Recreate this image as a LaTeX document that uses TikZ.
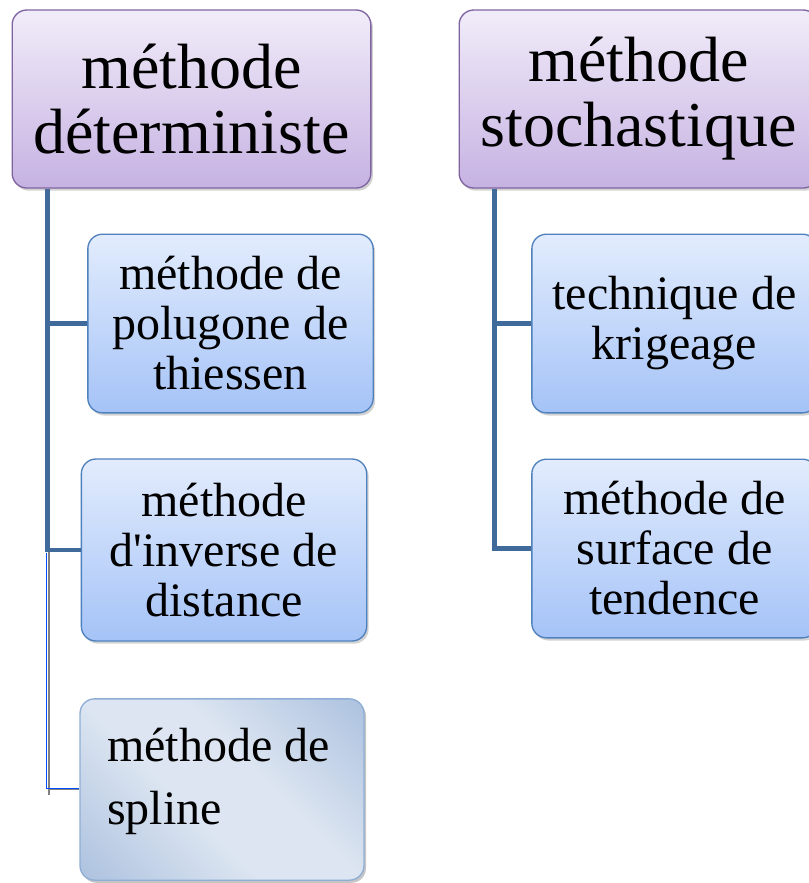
\documentclass[tikz,border=0pt]{standalone}
\usepackage{fontspec}
\setmainfont{Liberation Serif}[Ligatures=TeXOff]
\usetikzlibrary{shadows}
\definecolor{headTop}{HTML}{F1ECF9}
\definecolor{headBot}{HTML}{C6B2E2}
\definecolor{headLine}{HTML}{8064A2}
\definecolor{leafTop}{HTML}{E2ECFD}
\definecolor{leafBot}{HTML}{A5C3F7}
\definecolor{leafLine}{HTML}{4F81BD}
\definecolor{trunkCol}{HTML}{3F6A9A}
\definecolor{splDark}{HTML}{93AFD6}
\definecolor{splLight}{HTML}{DCE5F1}
\definecolor{splLine}{HTML}{8FAED6}
\pgfdeclarehorizontalshading{splinefill}{100bp}{color(0bp)=(splDark); color(42bp)=(splLight); color(58bp)=(splLight); color(100bp)=(splDark)}
\tikzset{
  headbox/.style={draw=headLine, line width=1pt, rounded corners=11pt, top color=headTop, bottom color=headBot,
    minimum width=269pt, minimum height=133.5pt, align=center, inner sep=0pt,
    font=\fontsize{48}{48.75}\selectfont,
    drop shadow={shadow xshift=1.5pt, shadow yshift=-2pt, opacity=0.35}},
  leafbox/.style={draw=leafLine, line width=1pt, rounded corners=11pt, top color=leafTop, bottom color=leafBot,
    minimum width=214pt, minimum height=134pt, align=center, inner sep=0pt,
    font=\fontsize{36}{37.5}\selectfont,
    drop shadow={shadow xshift=1.5pt, shadow yshift=-2pt, opacity=0.35}},
  splinebox/.style={draw=splLine, line width=1pt, rounded corners=11pt, shading=splinefill, shading angle=45,
    minimum width=213pt, minimum height=136pt, inner sep=0pt,
    drop shadow={shadow xshift=1.5pt, shadow yshift=-2pt, opacity=0.45}},
  splinetext/.style={align=left, inner sep=0pt, font=\fontsize{36}{47}\selectfont},
  trunk/.style={draw=trunkCol, line width=3.5pt},
}
\begin{document}
\begin{tikzpicture}[x=0.75pt,y=-0.75pt]
  \useasboundingbox[fill=white] (0,0) rectangle (809,883);
  % deterministe
  \node[headbox] (detH) at (191.5,99) {méthode\\déterministe};
  \node[leafbox] (poly) at (230.5,323.5) {méthode de\\polugone de\\thiessen};
  \node[leafbox, minimum height=136.5pt] (inv) at (224,550) {méthode\\d'inverse de\\distance};
  \node[splinebox] (spl) at (222,789.5) {};
  \node[splinetext, anchor=north west] (splText) at (107,728) {méthode de\\spline};
  % stochastique
  \node[headbox] (stoH) at (638.5,99) {méthode\\stochastique};
  \node[leafbox] (krig) at (674.5,323.5) {technique de\\krigeage};
  \node[leafbox] (tend) at (674.5,548.5) {méthode de\\surface de\\tendence};

  \coordinate (detT) at ([xshift=27pt]detH.south west);
  \coordinate (stoT) at ([xshift=27pt]stoH.south west);
  \draw[trunk] (detT) |- (poly.west);
  \draw[trunk] (detT) |- (inv.west);
  \draw[trunk] (stoT) |- (krig.west);
  \draw[trunk] (stoT) |- (tend.west);
  \coordinate (splT) at (detT |- inv.west);
  \draw[gray, line width=1.2pt] ([xshift=1pt,yshift=-1.5pt]splT) -- ([xshift=1pt,yshift=-4pt]splT |- spl.west) ([xshift=1pt]splT |- spl.west) -- (spl.west);
  \draw[blue!70!cyan, line width=0.9pt] ([xshift=-1pt,yshift=-2pt]splT) |- ([yshift=1pt]spl.west);
\end{tikzpicture}
\end{document}
